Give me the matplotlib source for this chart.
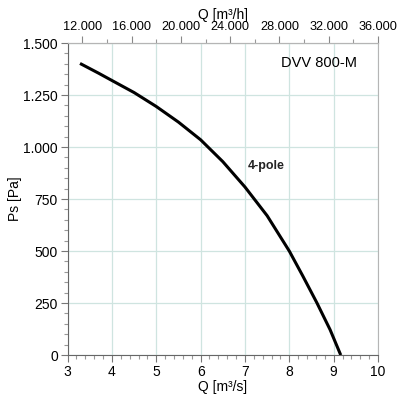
import matplotlib
matplotlib.use("Agg")
import matplotlib.pyplot as plt
from matplotlib.ticker import MultipleLocator, FuncFormatter

plt.rcParams['font.family'] = ['Liberation Sans', 'DejaVu Sans']

# fan curve
q_m3s = [3.28, 3.7, 4.0, 4.5, 5.0, 5.5, 6.0, 6.5, 7.0, 7.5, 8.0, 8.3, 8.62, 8.92, 9.16]
ps_pa = [1402, 1355, 1320, 1262, 1195, 1120, 1035, 930, 808, 670, 500, 382, 252, 122, 0]

model_name = "DVV 800-M"
curve_name = "4-pole"


def dotted_thousands(v, pos):
    return f"{int(round(v)):,}".replace(",", ".")


fig = plt.figure(figsize=(4.0, 3.95), dpi=100)
ax = fig.add_axes([0.169, 0.101, 0.776, 0.79])

ax.plot(q_m3s, ps_pa, color='black', lw=2.2, solid_capstyle='butt', solid_joinstyle='round')

ax.set_xlim(3, 10)
ax.set_ylim(0, 1500)
ax.xaxis.set_major_locator(MultipleLocator(1))
ax.xaxis.set_minor_locator(MultipleLocator(0.2))
ax.yaxis.set_major_locator(MultipleLocator(250))
ax.yaxis.set_minor_locator(MultipleLocator(50))
ax.yaxis.set_major_formatter(FuncFormatter(dotted_thousands))
ax.grid(True, which='major', color='#cfe4e0', lw=0.9)

ax.tick_params(which='major', length=5, width=0.8, color='#777777', labelsize=10, pad=2)
ax.tick_params(which='minor', length=3, width=0.8, color='#999999')

for side in ('left', 'bottom'):
    ax.spines[side].set_color('#666666')
for side in ('top', 'right'):
    ax.spines[side].set_color('#b5b5b5')

ax.set_xlabel("Q [m³/s]", fontsize=10, labelpad=1)
ax.set_ylabel("Ps [Pa]", fontsize=10, labelpad=1)

top = ax.secondary_xaxis('top', functions=(lambda q: q * 3600, lambda h: h / 3600))
top.xaxis.set_major_locator(MultipleLocator(4000))
top.xaxis.set_minor_locator(MultipleLocator(2000))
top.xaxis.set_major_formatter(FuncFormatter(dotted_thousands))
top.tick_params(which='major', length=5, width=0.8, color='#888888', labelsize=9.2, pad=2)
top.tick_params(which='minor', length=3, width=0.8, color='#999999')
top.spines['top'].set_color('#b5b5b5')
top.set_xlabel("Q [m³/h]", fontsize=10, labelpad=2)

ax.text(8.67, 1405, model_name, fontsize=10.5, ha='center', va='center')
ax.text(7.06, 910, curve_name, fontsize=9, fontweight='bold', ha='left', va='center', color='#222222')

fig.savefig("out.png", dpi=100)
